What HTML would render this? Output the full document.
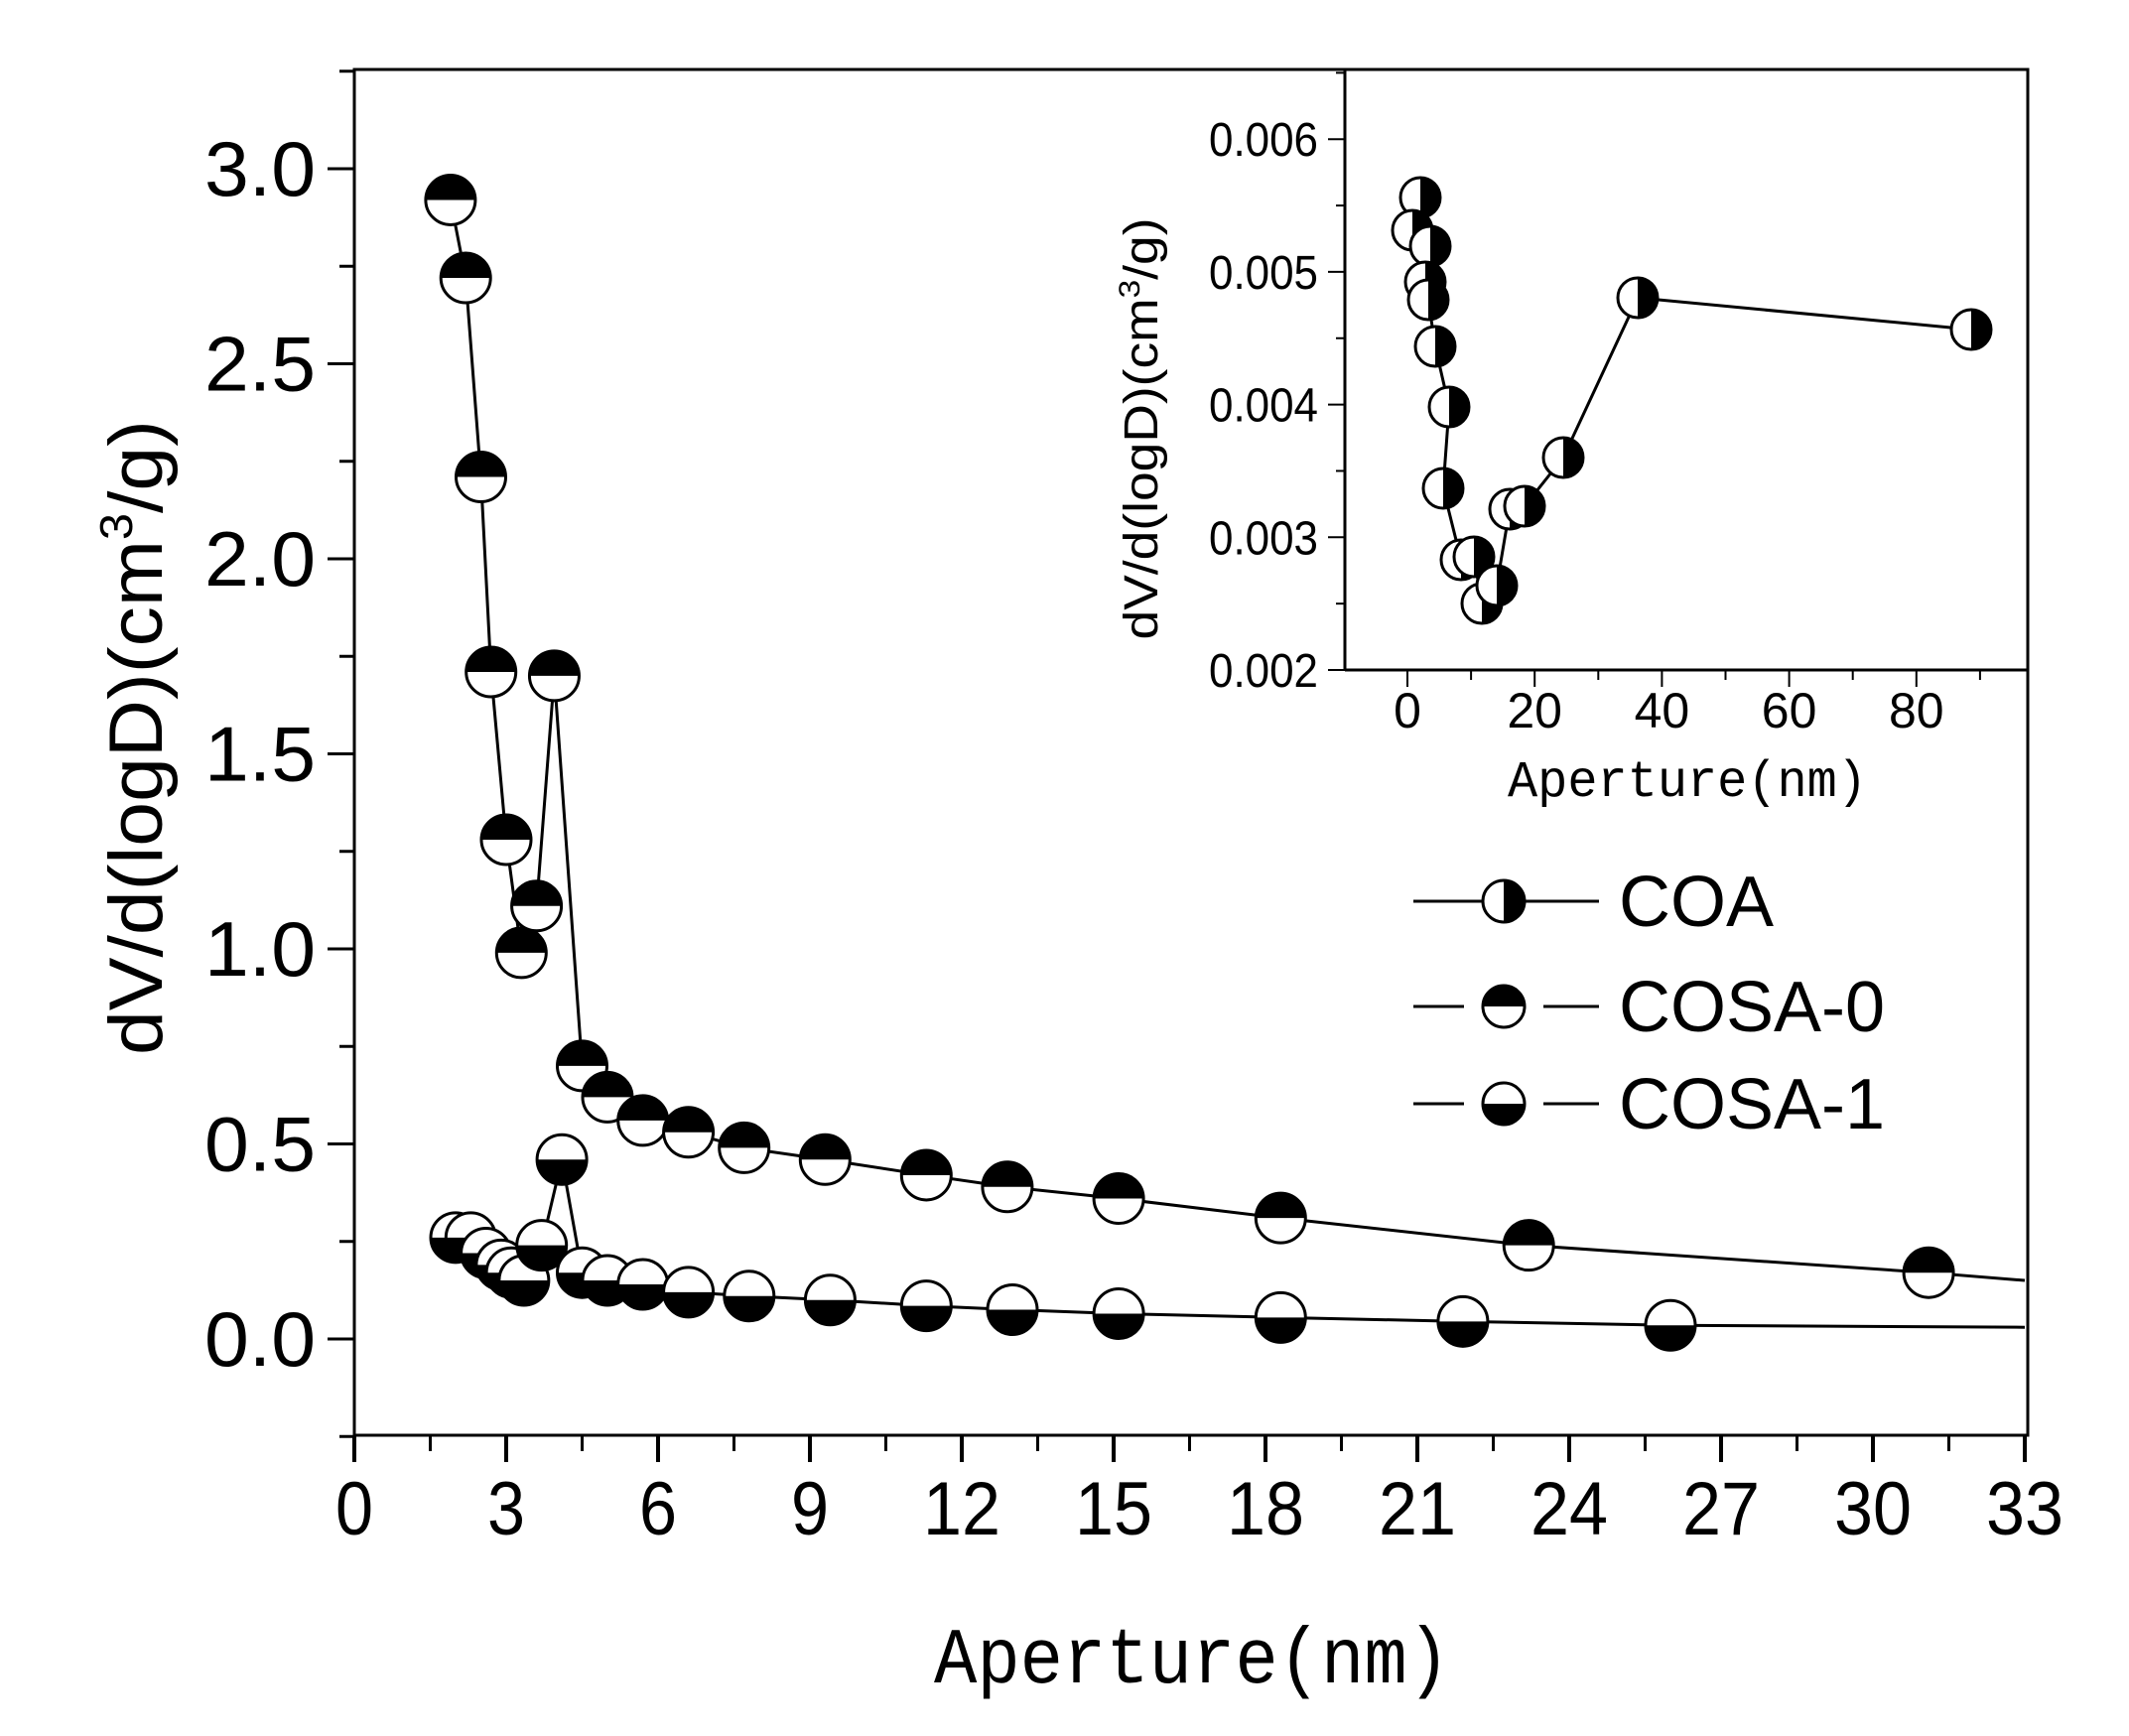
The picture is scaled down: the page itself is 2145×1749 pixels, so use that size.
<!DOCTYPE html>
<html><head><meta charset="utf-8"><style>
html,body{margin:0;padding:0;background:#fff;}
svg{display:block;}
</style></head><body>
<svg id="s" width="2145" height="1749" viewBox="0 0 2145 1749" xmlns="http://www.w3.org/2000/svg">
<rect x="0" y="0" width="2145" height="1749" fill="#fff"/>
<g id="g"></g>
</svg>
<script>
var g=document.getElementById('g'),out='';
function L(x1,y1,x2,y2,w){out+='<line x1="'+x1+'" y1="'+y1+'" x2="'+x2+'" y2="'+y2+'" stroke="#000" stroke-width="'+(w||3)+'"/>';}
function T(x,y,s,fs,anch,fam,extra){out+='<text x="'+x+'" y="'+y+'" font-size="'+fs+'" text-anchor="'+(anch||'middle')+'" font-family="'+(fam||'Liberation Sans, sans-serif')+'" '+(extra||'')+'>'+s+'</text>';}
function M(cx,cy,r,t){
 out+='<circle cx="'+cx+'" cy="'+cy+'" r="'+r+'" fill="#fff" stroke="#000" stroke-width="3"/>';
 var p;
 if(t=='top')p='M'+(cx-r)+','+cy+' A'+r+','+r+' 0 0 1 '+(cx+r)+','+cy+' Z';
 else if(t=='bottom')p='M'+(cx-r)+','+cy+' A'+r+','+r+' 0 0 0 '+(cx+r)+','+cy+' Z';
 else p='M'+cx+','+(cy-r)+' A'+r+','+r+' 0 0 1 '+cx+','+(cy+r)+' Z';
 out+='<path d="'+p+'" fill="#000"/>';
}
function PL(pts,w){var d='';pts.forEach(function(p,i){d+=(i?'L':'M')+p[0]+','+p[1];});out+='<path d="'+d+'" fill="none" stroke="#000" stroke-width="'+(w||3)+'"/>';}
var X0=357,XU=51.0,Y0=1349,YU=393;
function px(x){return X0+x*XU;} function py(y){return Y0-y*YU;}
out+='<rect x="357" y="70" width="1686" height="1376" fill="none" stroke="#000" stroke-width="3"/>';
for(var i=0;i<=33;i+=1.5){var x=px(i);var maj=(Math.abs(i%3)<1e-6);L(x,1446,x,maj?1473:1462,maj?4:3);}
for(var i=0;i<=33;i+=3){T(px(i),1546,i,76,'middle',null,'textLength="'+(i<10?38:78)+'" lengthAdjust="spacingAndGlyphs"');}
for(var v=-0.25;v<=3.26;v+=0.25){var y=py(v);var maj=Math.abs((v*2)%1)<1e-6;L(357,y,maj?330:342,y,3);}
for(var v=0;v<=3.01;v+=0.5){T(318,py(v)+27,v.toFixed(1),78,'end',null,'textLength="112" lengthAdjust="spacingAndGlyphs"');}
var A=[[1.9,2.92],[2.2,2.72],[2.5,2.21],[2.7,1.71],[3.0,1.28],[3.3,0.99],[3.6,1.11],[3.95,1.70],[4.5,0.70],[5.0,0.62],[5.7,0.56],[6.6,0.53],[7.7,0.49],[9.3,0.46],[11.3,0.42],[12.9,0.39],[15.1,0.36],[18.3,0.31],[23.2,0.24],[31.1,0.17]];
var B=[[2.0,0.26],[2.3,0.26],[2.6,0.22],[2.9,0.19],[3.1,0.17],[3.35,0.15],[3.7,0.24],[4.1,0.46],[4.5,0.17],[5.0,0.15],[5.7,0.14],[6.6,0.12],[7.8,0.11],[9.4,0.10],[11.3,0.085],[13.0,0.075],[15.1,0.065],[18.3,0.055],[21.9,0.045],[26.0,0.035]];
PL(A.map(function(p){return [px(p[0]),py(p[1])];}).concat([[px(33),py(0.15)]]));
PL(B.map(function(p){return [px(p[0]),py(p[1])];}).concat([[px(33),py(0.03)]]));
B.forEach(function(p){M(px(p[0]),py(p[1]),25,'bottom');});
A.forEach(function(p){M(px(p[0]),py(p[1]),25,'top');});
T(1201,1695,'Aperture(nm)',80,'middle','Liberation Mono, monospace','textLength="520" lengthAdjust="spacingAndGlyphs"');
out+='<text transform="translate(163,743) rotate(-90)" font-size="76" text-anchor="middle" font-family="Liberation Sans, sans-serif" textLength="640" lengthAdjust="spacingAndGlyphs">dV/d(logD)(cm<tspan dy="-30" font-size="46">3</tspan><tspan dy="30">/g)</tspan></text>';
L(1424,908,1611,908,3);M(1515,908,21,'right');T(1631,933,'COA',72,'start');
L(1424,1014,1475,1014,3);L(1555,1014,1611,1014,3);M(1515,1014,21,'top');T(1631,1039,'COSA-0',72,'start');
L(1424,1112,1475,1112,3);L(1555,1112,1611,1112,3);M(1515,1112,21,'bottom');T(1631,1137,'COSA-1',72,'start');
L(1355,70,1355,675,3);L(1355,675,2043,675,3);
var IX0=1418,IXU=6.41,IY0=675,IYU=133700;
for(var k=4;k<=13;k++){var v=k*0.0005;var y=IY0-(v-0.002)*IYU;var maj=k%2==0;L(1355,y,maj?1338:1346,y,2);}
for(var k=2;k<=6;k++){T(1328,IY0-(k-2)*0.001*IYU+17,'0.00'+k,48,'end',null,'textLength="110" lengthAdjust="spacingAndGlyphs"');}
for(var x=0;x<=90;x+=10){var xx=IX0+x*IXU;var maj=x%20==0;L(xx,675,xx,maj?692:685,2);}
for(var x=0;x<=80;x+=20){T(IX0+x*IXU,733,x,50);}
T(1700,802,'Aperture(nm)',52,'middle','Liberation Mono, monospace','textLength="362" lengthAdjust="spacingAndGlyphs"');
out+='<text transform="translate(1166,432) rotate(-90)" font-size="48" text-anchor="middle" font-family="Liberation Sans, sans-serif" textLength="425" lengthAdjust="spacingAndGlyphs">dV/d(logD)(cm<tspan dy="-18" font-size="30">3</tspan><tspan dy="18">/g)</tspan></text>';
var C=[[1431,199],[1423,232],[1441,248],[1436,284],[1439,302],[1446,349],[1460,410],[1454,492],[1472,564],[1485,561],[1493,608],[1508,590],[1521,513],[1536,510],[1575,461],[1650,300],[1986,332]];
PL(C,3);
C.forEach(function(p){M(p[0],p[1],20,'right');});
g.innerHTML=out;
</script>
</body></html>
